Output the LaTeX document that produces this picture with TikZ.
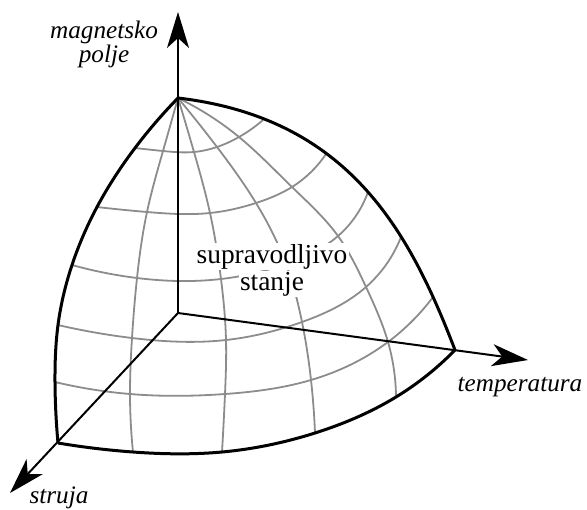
\documentclass[tikz,border=0pt]{standalone}
\usepackage{fontspec}
\setmainfont{LiberationSerif}[Extension=.ttf, UprightFont=*-Regular, ItalicFont=*-Italic, BoldFont=*-Bold, BoldItalicFont=*-BoldItalic]
\usetikzlibrary{arrows.meta,hobby}
\newcommand{\whiteline}[1]{{\setlength{\fboxsep}{0.6pt}\colorbox{white}{#1}}}

\begin{document}
\begin{tikzpicture}[
  x=0.5pt, y=-0.5pt,
  font=\fontsize{13.7}{13.5}\selectfont,
  axisline/.style={line width=1pt, -{Stealth[length=18pt, width=11pt, inset=5pt]}},
  rim/.style={line width=1.5pt, line join=round},
  mesh/.style={line width=0.9pt, draw=black!45},
  axlabel/.style={font=\fontsize{12.6}{12}\selectfont\itshape, inner sep=0pt, align=center}
]
\useasboundingbox (0,0) rectangle (587,509);

\coordinate (O) at (178,313);
\coordinate (T) at (178,98);
\coordinate (zend) at (178,12);
\coordinate (xend) at (528,360);
\coordinate (yend) at (10,493);

\foreach \n/\x/\y in {
  50/135/148, 51/163/151, 52/194/152, 53/217/147, 54/239/137, 55/263/120,
  40/97/207,  41/147/212, 42/210/213, 43/256/203, 44/292/187, 45/326/154,
  30/72/265,  31/137/278, 32/221/279, 33/286/264, 34/338/236, 35/368/192,
  20/58/325,  21/132/338, 22/226/340, 23/302/322, 24/366/287, 25/401/237,
  10/55/382,  11/130/394, 12/225/394, 13/311/380, 14/388/342, 15/433/297,
  00/58/443,  01/133/452, 02/222/452, 03/315/433, 04/396/397, 05/455/350}
  \coordinate (g\n) at (\x,\y);

\foreach \c in {1,...,4}
  \draw[mesh] plot[hobby] coordinates {(T) (g5\c) (g4\c) (g3\c) (g2\c) (g1\c) (g0\c)};
\foreach \r in {1,...,5}
  \draw[mesh] plot[hobby] coordinates {(g\r0) (g\r1) (g\r2) (g\r3) (g\r4) (g\r5)};

\draw[axisline] (O) -- (zend);
\draw[axisline] (O) -- (xend);
\draw[axisline] (O) -- (yend);

\draw[rim] plot[hobby] coordinates {(T) (g50) (g40) (g30) (g20) (g10) (g00)};
\draw[rim] (T) .. controls (348,118) and (409,230) .. (g05);
\draw[rim] plot[hobby] coordinates {(g00) (g01) (g02) (g03) (g04) (g05)};

\node[inner sep=0pt, align=center] (state) at (272,270) {\whiteline{supravodljivo}\\\whiteline{stanje}};
\node[axlabel] (lblz) at (104,44) {magnetsko\\polje};
\node[axlabel, anchor=base] (lblx) at (520,391) {temperatura};
\node[axlabel, anchor=base] (lbly) at (59,503) {struja};
\end{tikzpicture}
\end{document}
